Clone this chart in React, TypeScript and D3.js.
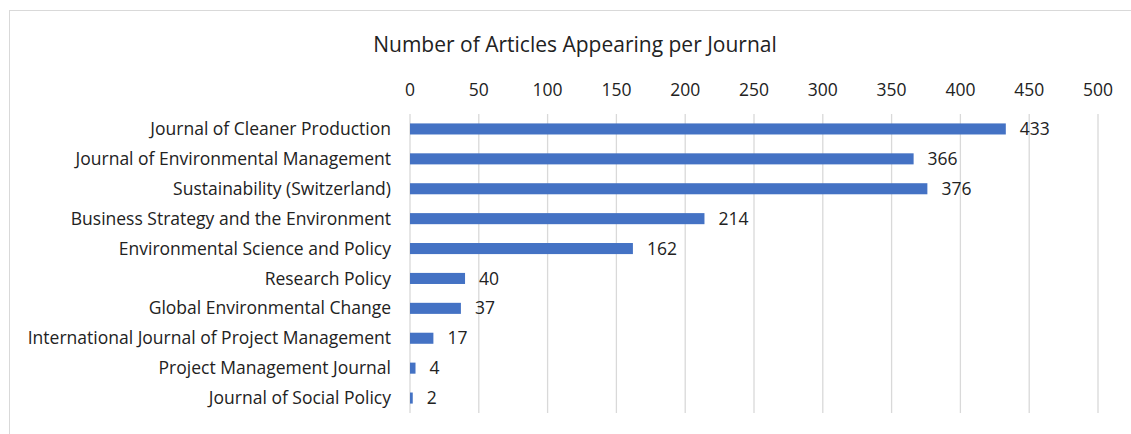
import React from "react";
import * as d3 from "d3";

const journals = [
  "Journal of Cleaner Production",
  "Journal of Environmental Management",
  "Sustainability (Switzerland)",
  "Business Strategy and the Environment",
  "Environmental Science and Policy",
  "Research Policy",
  "Global Environmental Change",
  "International Journal of Project Management",
  "Project Management Journal",
  "Journal of Social Policy",
];
const articles = [433, 366, 376, 214, 162, 40, 37, 17, 4, 2];
const ticks = [0, 50, 100, 150, 200, 250, 300, 350, 400, 450, 500];
const title = "Number of Articles Appearing per Journal";

const W = 1131;
const H = 434;
const FONT = "'Open Sans', sans-serif";

export default function App() {
  const x = d3.scaleLinear().domain([0, 500]).range([410, 1098]);
  const y = d3
    .scaleBand<string>()
    .domain(journals)
    .range([114, 413])
    .paddingInner(0.63)
    .paddingOuter(0.315);

  return (
    <svg
      width={W}
      height={H}
      style={{ position: "absolute", left: 0, top: 0, background: "#fff" }}
      fontFamily={FONT}
    >
      <rect x={9.5} y={10.5} width={W + 20} height={H + 20} fill="#fff" stroke="#d9d9d9" strokeWidth={1} />
      <text x={575} y={52} textAnchor="middle" fontSize={21} fill="#222">
        {title}
      </text>
      {ticks.map((t) => (
        <g key={t}>
          <line x1={x(t)} x2={x(t)} y1={114} y2={413} stroke="#d9d9d9" strokeWidth={1.3} />
          <text x={x(t)} y={96} textAnchor="middle" fontSize={17.5} fill="#222">
            {t}
          </text>
        </g>
      ))}
      {journals.map((j, i) => {
        const yy = y(j)!;
        const cy = yy + y.bandwidth() / 2;
        return (
          <g key={j}>
            <rect x={x(0)} y={yy} width={x(articles[i]) - x(0)} height={y.bandwidth()} fill="#4472c4" />
            <text x={391} y={cy} dy="0.35em" textAnchor="end" fontSize={17.5} fill="#222">
              {j}
            </text>
            <text x={x(articles[i]) + 14} y={cy} dy="0.35em" fontSize={17.5} fill="#222">
              {articles[i]}
            </text>
          </g>
        );
      })}
    </svg>
  );
}
